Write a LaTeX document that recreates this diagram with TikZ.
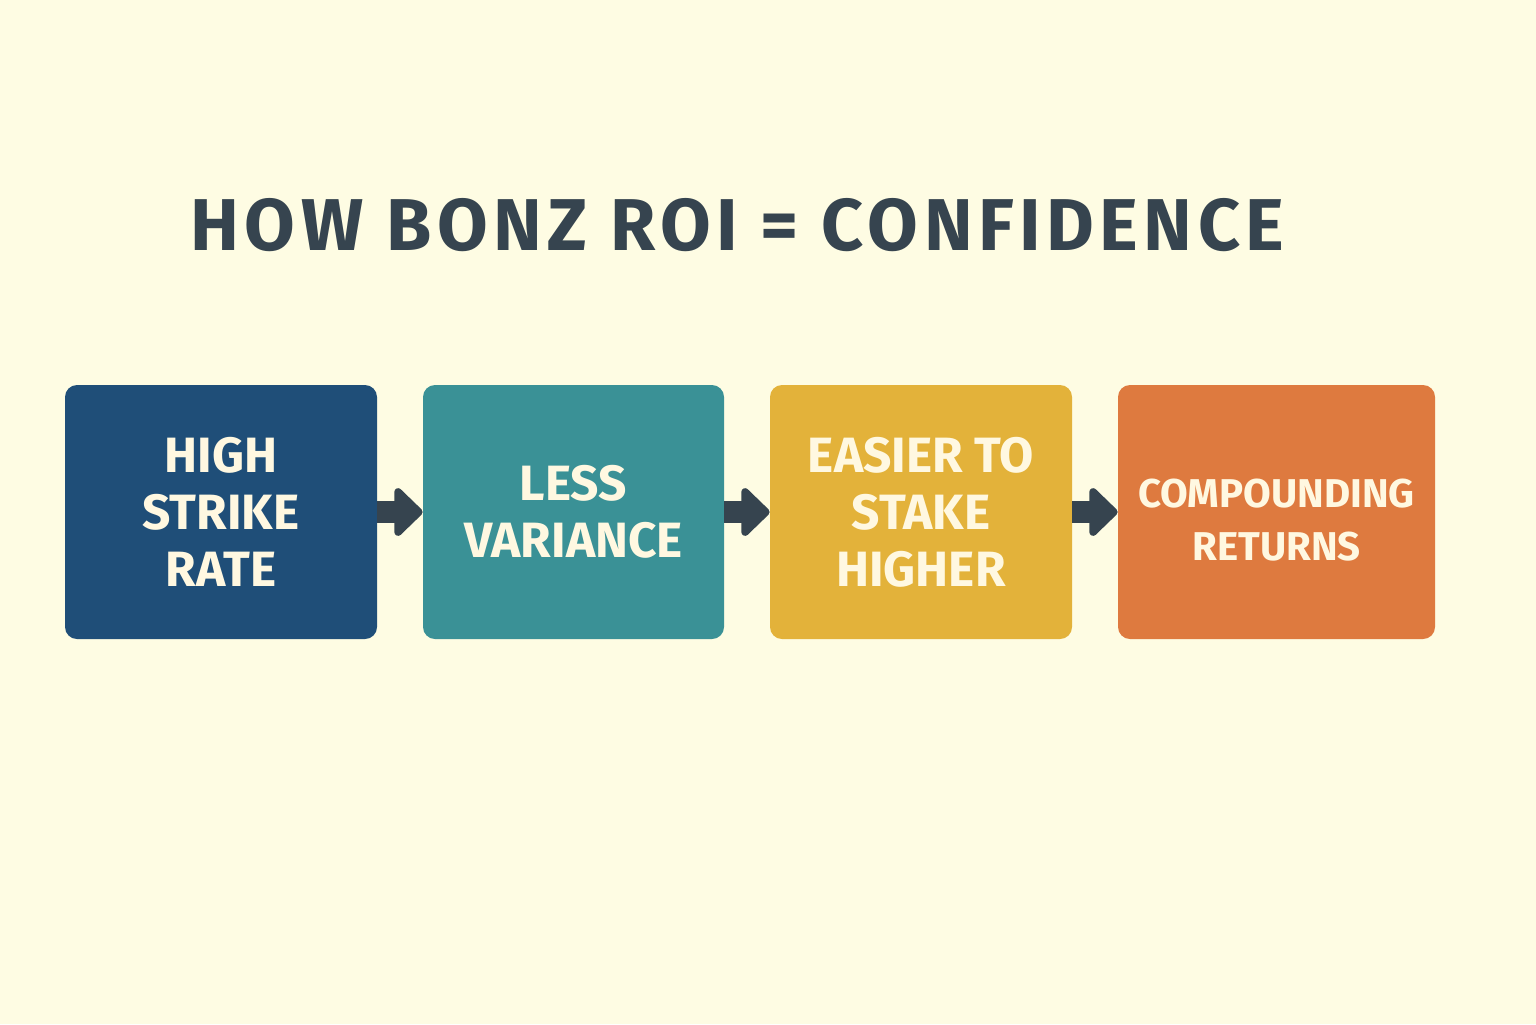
\documentclass[tikz,border=0pt]{standalone}
\usepackage{fontspec}
\setmainfont{Fira Sans}
\newfontfamily\titlefont[LetterSpace=7.5]{Fira Sans}
\usetikzlibrary{arrows.meta}
\definecolor{bgcream}{HTML}{FEFCE3}
\definecolor{slate}{HTML}{36444F}
\definecolor{navy}{HTML}{1F4E78}
\definecolor{teal}{HTML}{3A9196}
\definecolor{mustard}{HTML}{E3B23A}
\definecolor{rust}{HTML}{DE7A3F}
\definecolor{cream}{HTML}{FFF8E1}
\tikzset{
  stage/.style={rounded corners=6pt, minimum height=127pt, align=center,
    text=cream, font=\bfseries\fontsize{24.8}{28.5}\selectfont, inner sep=0pt},
  flow/.style={slate, line width=11pt,
    -{Triangle[length=15pt,width=28pt,round]}}
}
\begin{document}
\begin{tikzpicture}[x=0.5pt,y=-0.5pt]
    \fill[bgcream] (0,0) rectangle (1536,1024);
    \useasboundingbox (0,0) rectangle (1536,1024);
    \node[slate, font=\titlefont\bfseries\fontsize{36.7}{36.7}\selectfont] (title) at (737.5,225) {HOW BONZ ROI = CONFIDENCE};
    \node[stage, fill=navy, minimum width=156pt] (strike) at (221,512) {HIGH\\STRIKE\\RATE};
    \node[stage, fill=teal, minimum width=150.5pt] (variance) at (573.5,512) {LESS\\VARIANCE};
    \node[stage, fill=mustard, minimum width=151pt] (stake) at (921,512) {EASIER TO\\STAKE\\HIGHER};
    \node[stage, fill=rust, minimum width=158.5pt,
      font=\bfseries\fontsize{20.1}{26.5}\selectfont] (returns) at (1276.5,512) {\rule{0pt}{22pt}COMPOUNDING\\RETURNS};
    \draw[flow] (strike) -- (variance);
    \draw[flow] (variance) -- (stake);
    \draw[flow] (stake) -- (returns);
\end{tikzpicture}
\end{document}
